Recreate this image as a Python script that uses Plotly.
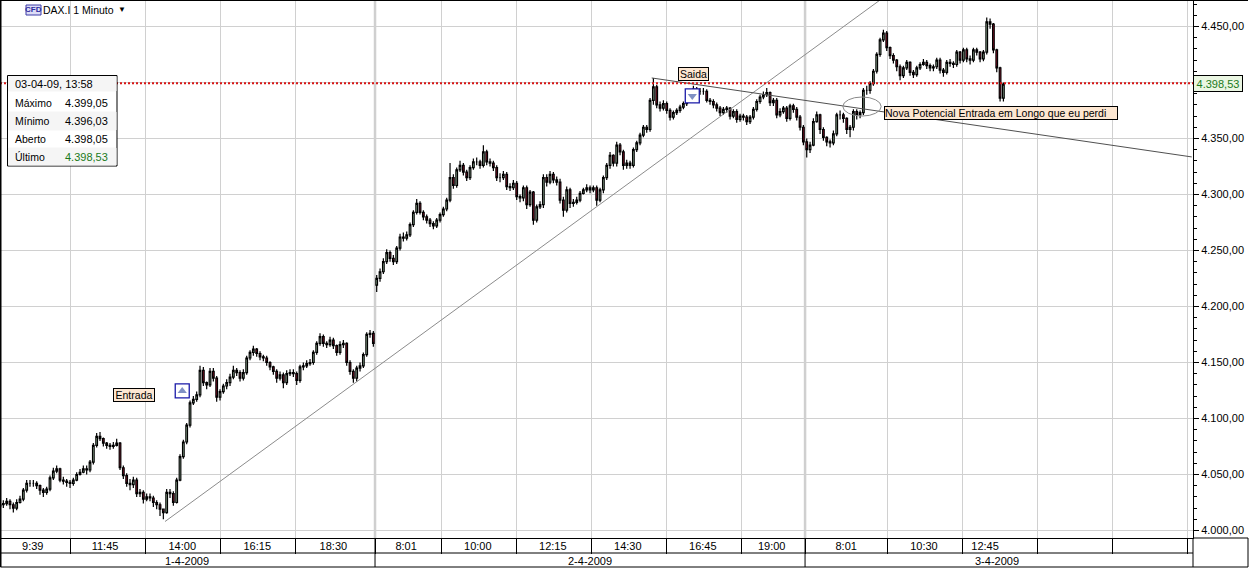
import plotly.graph_objects as go

# ---------- data (6-minute sampling of the price path) ----------
day1_start_open = 4022
day1_close = [4023,4024,4026,4023,4020,4025,4028,4036,4042,4042,
4042,4040,4036,4034,4037,4047,4053,4055,4045,4044,
4043,4042,4045,4050,4052,4055,4054,4061,4076,4084,
4082,4078,4076,4075,4076,4078,4056,4049,4042,4041,
4045,4033,4034,4028,4030,4029,4025,4023,4019,4016,
4034,4033,4025,4045,4066,4079,4094,4114,4117,4121,
4143,4132,4130,4142,4136,4119,4124,4129,4132,4137,
4143,4141,4136,4141,4154,4159,4162,4158,4155,4154,
4150,4146,4142,4136,4139,4132,4140,4141,4140,4134,
4146,4147,4149,4150,4159,4167,4173,4167,4166,4170,
4165,4159,4166,4167,4150,4142,4136,4145,4147,4157,
4175,4176,4167]
day1_high = [4026,4027,4029,4028,4025,4028,4031,4038,4045,4045,
4045,4044,4041,4038,4039,4049,4056,4058,4056,4048,
4046,4045,4047,4052,4055,4058,4058,4063,4078,4087,
4088,4083,4079,4078,4079,4082,4079,4058,4051,4046,
4048,4047,4037,4036,4033,4033,4031,4027,4025,4019,
4037,4037,4035,4047,4068,4081,4096,4116,4120,4124,
4147,4146,4133,4145,4145,4138,4126,4131,4135,4140,
4147,4145,4143,4144,4156,4161,4165,4163,4160,4157,
4156,4151,4147,4144,4142,4141,4143,4144,4144,4142,
4148,4150,4152,4153,4161,4169,4176,4175,4169,4173,
4172,4166,4169,4170,4168,4152,4144,4147,4150,4159,
4177,4179,4178]
day1_low = [4019,4020,4022,4019,4016,4018,4024,4026,4034,4039,
4039,4037,4032,4030,4032,4035,4045,4051,4043,4041,
4039,4038,4040,4044,4049,4051,4050,4052,4059,4074,
4080,4075,4073,4072,4073,4075,4054,4046,4039,4036,
4038,4030,4030,4024,4026,4026,4021,4019,4013,4010,
4015,4029,4022,4024,4044,4064,4077,4092,4112,4115,
4119,4129,4126,4128,4133,4115,4116,4122,4126,4129,
4135,4138,4133,4134,4139,4152,4156,4155,4152,4151,
4147,4143,4139,4132,4134,4127,4130,4138,4137,4130,
4132,4143,4145,4147,4148,4157,4165,4164,4163,4164,
4162,4156,4157,4163,4147,4139,4132,4133,4142,4145,
4155,4172,4164]

day2_start_open = 4219
day2_close = [4225,4231,4240,4248,4243,4240,4252,4262,4261,4264,
4273,4284,4292,4284,4280,4277,4274,4272,4277,4282,
4287,4295,4315,4308,4322,4326,4320,4315,4324,4329,
4329,4326,4338,4329,4328,4324,4315,4315,4318,4307,
4306,4310,4298,4297,4306,4291,4302,4277,4289,4291,
4315,4311,4318,4313,4311,4295,4286,4304,4292,4293,
4295,4301,4304,4306,4304,4306,4295,4304,4315,4326,
4335,4328,4344,4338,4326,4328,4326,4340,4346,4353,
4360,4358,4384,4396,4380,4377,4381,4375,4369,4373,
4375,4378,4381,4384,4392,4394,4392,4392,4392,4384,
4383,4380,4377,4373,4376,4377,4370,4374,4367,4370,
4369,4365,4369,4376,4383,4387,4389,4391,4382,4384,
4371,4374,4377,4368,4379,4376,4369,4360,4347]
day2_high = [4228,4234,4243,4251,4250,4246,4254,4265,4266,4267,
4275,4286,4296,4294,4286,4282,4279,4276,4279,4284,
4289,4297,4328,4318,4324,4330,4328,4322,4326,4332,
4333,4331,4344,4340,4332,4330,4326,4319,4321,4320,
4310,4313,4312,4300,4308,4308,4304,4303,4291,4294,
4318,4318,4321,4320,4316,4314,4298,4307,4306,4296,
4298,4303,4306,4309,4308,4308,4308,4306,4317,4328,
4338,4336,4347,4346,4340,4331,4330,4342,4348,4355,
4362,4362,4386,4404,4398,4383,4384,4383,4377,4375,
4377,4380,4383,4386,4394,4397,4396,4395,4395,4394,
4386,4385,4382,4379,4378,4379,4378,4376,4376,4372,
4372,4371,4371,4378,4385,4389,4392,4395,4392,4386,
4386,4377,4379,4379,4381,4381,4378,4371,4362]
day2_low = [4213,4222,4229,4238,4240,4237,4238,4250,4258,4259,
4262,4271,4282,4282,4277,4274,4271,4269,4270,4275,
4280,4285,4293,4305,4306,4320,4317,4312,4313,4322,
4326,4323,4324,4326,4325,4321,4312,4311,4313,4304,
4303,4304,4295,4293,4294,4287,4289,4273,4275,4287,
4288,4307,4309,4310,4308,4292,4280,4284,4288,4289,
4291,4293,4300,4302,4301,4302,4290,4293,4301,4313,
4323,4325,4325,4335,4322,4323,4323,4324,4338,4344,
4351,4355,4356,4380,4377,4374,4375,4372,4366,4367,
4371,4373,4376,4379,4382,4390,4389,4389,4389,4382,
4380,4377,4374,4370,4371,4373,4367,4368,4364,4365,
4366,4362,4363,4367,4374,4381,4385,4387,4379,4379,
4368,4369,4372,4365,4366,4373,4366,4357,4344]

day3_start_open = 4347
day3_close = [4340,4344,4365,4371,4358,4351,4347,4346,4354,4371,
4371,4368,4358,4360,4374,4371,4373,4393,4393,4399,
4410,4425,4438,4444,4431,4424,4420,4414,4406,4413,
4418,4409,4407,4413,4416,4418,4415,4413,4414,4420,
4411,4409,4418,4417,4416,4427,4420,4429,4421,4420,
4429,4427,4421,4427,4454,4452,4429,4413,4386,4398.53]
day3_high = [4350,4347,4368,4374,4372,4360,4352,4349,4357,4373,
4375,4373,4369,4362,4376,4376,4375,4395,4397,4401,
4412,4427,4440,4447,4446,4432,4426,4421,4416,4415,
4420,4419,4411,4415,4418,4421,4420,4417,4416,4422,
4422,4413,4420,4421,4419,4429,4428,4431,4431,4424,
4431,4431,4428,4429,4458,4457,4453,4430,4414,4400]
day3_low = [4333,4337,4343,4364,4354,4348,4343,4342,4344,4352,
4367,4364,4354,4351,4357,4367,4368,4371,4389,4390,
4397,4408,4423,4436,4428,4421,4417,4410,4402,4404,
4411,4406,4404,4405,4411,4415,4412,4410,4410,4412,
4408,4405,4407,4414,4413,4414,4417,4418,4418,4416,
4418,4424,4418,4419,4425,4448,4426,4409,4383,4383]

bar_minutes = 6
grid_minutes = [126,261,396,531,675,794,929,1064,1199,1334,1449,1598,1733,1868,2003,2138]
time_label_minutes = [59,189,328,463,600,731,860,995,1130,1265,1389,1523,1663,1773]
time_labels = ["9:39","11:45","14:00","16:15","18:30","8:01","10:00","12:15","14:30","16:45","19:00","8:01","10:30","12:45"]
day_labels = ["1-4-2009","2-4-2009","3-4-2009"]
day_label_minutes = [337,1062,1795]
day_break_minutes = [675,1449]
price_ticks = [4000,4050,4100,4150,4200,4250,4300,4350,4400,4450]
# the 4.400,00 label sits under the last-price tag in the reference
price_tick_text = ["4.000,00","4.050,00","4.100,00","4.150,00","4.200,00","4.250,00","4.300,00","4.350,00","","4.450,00"]
minor_price_ticks = list(range(4000, 4471, 10))
last_price = 4399.3
trend_up_x, trend_up_y = [297,1584], [4008,4473.6]
trend_down_x, trend_down_y = [1173,2145], [4404,4333.5]
entry_x, entry_y = [328], [4124.6]
exit_x, exit_y = [1246], [4388]
circle_x, circle_y = [1517,1586], [4370,4387]

# ---------- helpers ----------
W, H = 1249, 568
PW, PH = 1193, 538
X = lambda px: px / PW
Y = lambda py: (PH - py) / PH

def ohlc(first_open, close):
    return [first_open] + close[:-1]

opens = ohlc(day1_start_open, day1_close) + ohlc(day2_start_open, day2_close) + ohlc(day3_start_open, day3_close)
closes = day1_close + day2_close + day3_close
highs = day1_high + day2_high + day3_high
lows = day1_low + day2_low + day3_low
bar_x = [i * bar_minutes for i in range(len(closes))]

fig = go.Figure()
fig.add_trace(go.Candlestick(
    x=bar_x, open=opens, high=highs, low=lows, close=closes, whiskerwidth=0,
    increasing=dict(line=dict(color="#000000", width=1.2), fillcolor="#b9e2bd"),
    decreasing=dict(line=dict(color="#000000", width=1.2), fillcolor="#b01030"),
    hoverinfo="skip", showlegend=False))
fig.add_trace(go.Scatter(x=trend_up_x, y=trend_up_y, mode="lines", line=dict(color="#8c8c8c", width=1), hoverinfo="skip", showlegend=False))
fig.add_trace(go.Scatter(x=trend_down_x, y=trend_down_y, mode="lines", line=dict(color="#505050", width=1), hoverinfo="skip", showlegend=False))
fig.add_trace(go.Scatter(x=entry_x + exit_x, y=entry_y + exit_y, mode="markers",
    marker=dict(symbol="square", size=14, color="#ffffff", line=dict(color="#1a1aa8", width=1.3)), hoverinfo="skip", showlegend=False))
fig.add_trace(go.Scatter(x=entry_x, y=entry_y, mode="markers",
    marker=dict(symbol="triangle-up", size=8, color="#7f90c4"), hoverinfo="skip", showlegend=False))
fig.add_trace(go.Scatter(x=exit_x, y=exit_y, mode="markers",
    marker=dict(symbol="triangle-down", size=8, color="#7f90c4"), hoverinfo="skip", showlegend=False))
# invisible trace that carries the time-label axis
fig.add_trace(go.Scatter(x=time_label_minutes, y=[last_price] * len(time_labels), xaxis="x2", mode="markers",
    marker=dict(opacity=0), hoverinfo="skip", showlegend=False))

shapes = []
def line(x0, y0, x1, y1, color="#000000", width=1):
    shapes.append(dict(type="line", xref="paper", yref="paper", x0=X(x0), y0=Y(y0), x1=X(x1), y1=Y(y1),
                       line=dict(color=color, width=width), layer="above"))
def rect(x0, y0, x1, y1, fill, color=None, width=1):
    shapes.append(dict(type="rect", xref="paper", yref="paper", x0=X(x0), y0=Y(y0), x1=X(x1), y1=Y(y1),
                       fillcolor=fill, line=dict(color=color or fill, width=width), layer="above"))

for m in day_break_minutes:
    shapes.append(dict(type="line", xref="x", yref="paper", x0=m, x1=m, y0=0, y1=1,
                       line=dict(color="#cfcfcf", width=2.5), layer="below"))
    shapes.append(dict(type="line", xref="x", yref="paper", x0=m, x1=m, y0=0, y1=Y(567),
                       line=dict(color="#000000", width=1), layer="below"))
shapes.append(dict(type="line", xref="paper", yref="y", x0=0, x1=1, y0=last_price, y1=last_price,
                   line=dict(color="#d81414", width=2.2, dash="2px,2px"), layer="above"))
shapes.append(dict(type="circle", xref="x", yref="y", x0=circle_x[0], x1=circle_x[1], y0=circle_y[0], y1=circle_y[1],
                   line=dict(color="#8a8a8a", width=1), layer="above"))
# outer frame and time-axis rows
line(0, 553, 1193, 553)
line(0.5, 567, 1248, 567)
line(1193, 538, 1193, 567)
line(1193, 538, 1248, 538)
line(1248, 538, 1248, 567)
line(0.5, 0, 0.5, 567, width=2)
line(0, 0.5, 1248, 0.5)
# info panel
rect(7.5, 75.5, 117, 166, "#ffffff", "#000000")
rect(8.5, 76.5, 116, 91, "#f5f5f5")
rect(8.5, 112, 116, 130, "#f5f5f5")
rect(8.5, 148, 116, 165, "#f5f5f5")
# CFD badge
rect(26, 5, 41, 15, "#dcdcf6", "#3c3ca8")

ann = []
def text(s, px, py, anchor="left", color="#000000", size=11, **kw):
    ann.append(dict(text=s, xref="paper", yref="paper", x=X(px), y=Y(py), xanchor=anchor, yanchor="middle",
                    showarrow=False, font=dict(color=color, size=size), **kw))
def box(s, px, py, w, h, align="center"):
    text(s, px, py, "center", size=10.5, width=w, height=h, align=align, bgcolor="#fde7d2", bordercolor="#000000", borderwidth=1, borderpad=0)

text("03-04-09, 13:58", 12.5, 84, size=11)
for lab, val, py, col in [("Máximo", "4.399,05", 103, "#000000"), ("Mínimo", "4.396,03", 121, "#000000"),
                          ("Aberto", "4.398,05", 139, "#000000"), ("Último", "4.398,53", 157, "#1a7a1a")]:
    text(lab, 12.5, py, size=10.5)
    text(val, 110, py, "right", col, size=11)
text("<b>CFD</b>", 33.5, 10, "center", "#2c2ca0", 8)
text("DAX.I 1 Minuto", 41, 10, size=10.5)
text("▼", 122, 9, "center", size=8)
box("Entrada", 134, 395, 40, 12)
box("Saida", 693.5, 74, 29, 12)
box("Nova Potencial Entrada em Longo que eu perdi", 1001, 113, 232, 12, "left")
text("4.398,53", 1218, 83.5, "center", "#1a7a1a", 11, width=48, height=15, bgcolor="#eaf6e2", bordercolor="#000000", borderwidth=1, borderpad=0)
for s, m in zip(day_labels, day_label_minutes):
    ann.append(dict(text=s, xref="x", yref="paper", x=m, y=Y(560.5), xanchor="center", yanchor="middle",
                    showarrow=False, font=dict(color="#000000", size=11)))

x_range = [0, PW / 0.5556]
fig.update_layout(
    width=W, height=H, autosize=False, margin=dict(l=0, r=W - PW, t=0, b=H - PH),
    paper_bgcolor="#ffffff", plot_bgcolor="#ffffff", showlegend=False,
    font=dict(family="Liberation Sans, Arial, sans-serif", size=11, color="#000000"),
    shapes=shapes, annotations=ann,
    xaxis=dict(range=x_range, tickmode="array", tickvals=grid_minutes, showticklabels=False,
               showgrid=True, gridcolor="#d0d0d0", gridwidth=1, ticks="outside", ticklen=15, tickcolor="#000000", tickwidth=1,
               showline=True, linecolor="#000000", linewidth=1, zeroline=False, rangeslider=dict(visible=False)),
    xaxis2=dict(range=x_range, overlaying="x", anchor="y", side="bottom", tickmode="array",
                tickvals=time_label_minutes, ticktext=time_labels, ticks="", showgrid=False, showline=False,
                zeroline=False, tickfont=dict(size=11, color="#000000")),
    yaxis=dict(range=[3993.3, 4473.6], side="right", tickmode="array", tickvals=price_ticks, ticktext=price_tick_text,
               showgrid=True, gridcolor="#d0d0d0", gridwidth=1, ticks="outside", ticklen=5, tickcolor="#000000",
               minor=dict(tickmode="array", tickvals=minor_price_ticks, ticks="outside", ticklen=3, tickcolor="#000000", showgrid=False),
               showline=True, linecolor="#000000", linewidth=1, zeroline=False, tickfont=dict(size=11, color="#000000")),
)
fig.write_html("out.html", config=dict(displayModeBar=False),
               post_script="document.body.style.margin='0';document.body.style.overflow='hidden';")
